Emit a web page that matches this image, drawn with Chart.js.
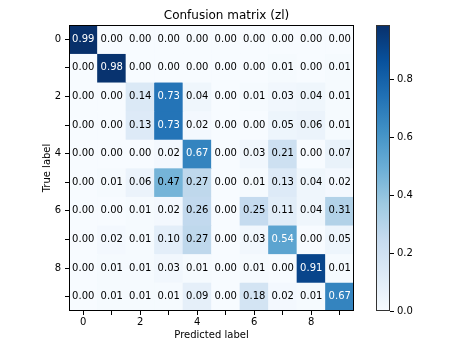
<!DOCTYPE html>
<html>
<head>
<meta charset="utf-8">
<script src="https://cdn.jsdelivr.net/npm/chart.js@4.4.1/dist/chart.umd.min.js"></script>
<style>
html,body{margin:0;padding:0;background:#fff;}
canvas{display:block;}
</style>
</head>
<body>
<canvas id="c" width="453" height="345"></canvas>
<script>
// ---- data ----
const chartTitle = 'Confusion matrix (zl)';
const predictedLabels = ['0','1','2','3','4','5','6','7','8','9'];
const trueLabels = ['0','1','2','3','4','5','6','7','8','9'];
const row0 = [0.99,0.00,0.00,0.00,0.00,0.00,0.00,0.00,0.00,0.00];
const row1 = [0.00,0.98,0.00,0.00,0.00,0.00,0.00,0.01,0.00,0.01];
const row2 = [0.00,0.00,0.14,0.73,0.04,0.00,0.01,0.03,0.04,0.01];
const row3 = [0.00,0.00,0.13,0.73,0.02,0.00,0.00,0.05,0.06,0.01];
const row4 = [0.00,0.00,0.00,0.02,0.67,0.00,0.03,0.21,0.00,0.07];
const row5 = [0.00,0.01,0.06,0.47,0.27,0.00,0.01,0.13,0.04,0.02];
const row6 = [0.00,0.00,0.01,0.02,0.26,0.00,0.25,0.11,0.04,0.31];
const row7 = [0.00,0.02,0.01,0.10,0.27,0.00,0.03,0.54,0.00,0.05];
const row8 = [0.00,0.01,0.01,0.03,0.01,0.00,0.01,0.00,0.91,0.01];
const row9 = [0.00,0.01,0.01,0.01,0.09,0.00,0.18,0.02,0.01,0.67];
const matrix = [row0,row1,row2,row3,row4,row5,row6,row7,row8,row9];
const colorbarTicks = [0.0,0.2,0.4,0.6,0.8];

const vmax = Math.max(...matrix.flat());
const vmin = 0;

// matplotlib "Blues" colormap stops
const BLUES = [[247,251,255],[222,235,247],[198,219,239],[158,202,225],[107,174,214],[66,146,198],[33,113,181],[8,81,156],[8,48,107]];
function blues(t){
  t = Math.max(0, Math.min(1, t));
  const p = t * (BLUES.length - 1);
  const i = Math.min(BLUES.length - 2, Math.floor(p));
  const f = p - i;
  const a = BLUES[i], b = BLUES[i+1];
  const c = a.map((v,k)=>Math.round(v + (b[k]-v)*f));
  return `rgb(${c[0]},${c[1]},${c[2]})`;
}

Chart.defaults.font.family = "'DejaVu Sans', sans-serif";
Chart.defaults.font.size = 10;
Chart.defaults.color = '#000';

const cellText = {
  id: 'cellText',
  afterDatasetsDraw(chart){
    const ctx = chart.ctx;
    ctx.save();
    ctx.font = "10px 'DejaVu Sans'";
    ctx.textAlign = 'center';
    ctx.textBaseline = 'middle';
    chart.data.datasets.forEach((ds, i) => {
      const meta = chart.getDatasetMeta(i);
      meta.data.forEach((el, j) => {
        const v = matrix[i][j];
        const p = el.getCenterPoint();
        ctx.fillStyle = v > vmax / 2 ? '#fff' : '#000';
        ctx.fillText(v.toFixed(2), p.x, p.y);
      });
    });
    ctx.restore();
  }
};

const frameAndColorbar = {
  id: 'frameAndColorbar',
  afterDraw(chart){
    const ctx = chart.ctx;
    const a = chart.chartArea;
    ctx.save();
    ctx.strokeStyle = '#000';
    ctx.lineWidth = 1;
    ctx.strokeRect(Math.round(a.left)+0.5, Math.round(a.top)+0.5, Math.round(a.right-a.left)-1, Math.round(a.bottom-a.top)-1);
    // colorbar
    const cb = chart.scales.cb;
    const x1 = cb.left, x0 = x1 - 14;
    const yTop = cb.getPixelForValue(vmax), yBot = cb.getPixelForValue(vmin);
    const g = ctx.createLinearGradient(0, yBot, 0, yTop);
    BLUES.forEach((c, k) => g.addColorStop(k/(BLUES.length-1), `rgb(${c[0]},${c[1]},${c[2]})`));
    ctx.fillStyle = g;
    ctx.fillRect(x0, yTop, x1 - x0, yBot - yTop);
    ctx.strokeStyle = '#333';
    ctx.strokeRect(Math.round(x0)+0.5, Math.round(yTop)+0.5, Math.round(x1-x0)-1, Math.round(yBot-yTop)-1);
    ctx.restore();
  }
};

new Chart(document.getElementById('c'), {
  type: 'bar',
  data: {
    labels: predictedLabels,
    datasets: trueLabels.map((lab, i) => ({
      label: lab,
      data: predictedLabels.map(() => [i, i + 1]),
      backgroundColor: matrix[i].map(v => blues((v - vmin) / (vmax - vmin))),
      grouped: false,
      barPercentage: 1,
      categoryPercentage: 1,
      borderWidth: 0,
      borderSkipped: false,
      yAxisID: 'y'
    }))
  },
  options: {
    responsive: false,
    devicePixelRatio: 1,
    animation: false,
    events: [],
    layout: { padding: { left: 0, right: 0, top: 0, bottom: 0 } },
    plugins: {
      legend: { display: false },
      tooltip: { enabled: false },
      title: {
        display: true,
        text: chartTitle,
        color: '#000',
        font: { size: 12, weight: 'normal' },
        padding: { top: 8.6, bottom: 2 }
      }
    },
    scales: {
      x: {
        type: 'category',
        position: 'bottom',
        offset: true,
        grid: { offset: false, drawOnChartArea: false, drawTicks: true, tickLength: 4, color: '#000' },
        border: { display: false },
        ticks: {
          autoSkip: false, maxRotation: 0, padding: 1, color: '#000',
          callback: (v, i) => (i % 2 === 0 ? predictedLabels[i] : '')
        },
        title: { display: true, text: 'Predicted label', color: '#000', font: { size: 10 }, padding: { top: 0, bottom: 4 } },
        afterFit: s => { s.height = 34; }
      },
      y: {
        type: 'linear',
        position: 'left',
        min: 0, max: trueLabels.length,
        reverse: true,
        grid: { drawOnChartArea: false, drawTicks: true, tickLength: 4, color: '#000' },
        border: { display: false },
        afterBuildTicks: s => { s.ticks = trueLabels.map((l, i) => ({ value: i + 0.5 })); },
        ticks: {
          padding: 4, color: '#000',
          callback: (v, i) => (i % 2 === 0 ? trueLabels[i] : '')
        },
        title: { display: true, text: 'True label', color: '#000', font: { size: 10 }, padding: { top: 41, bottom: 0 } },
        afterFit: s => { s.width = 69; }
      },
      gap: {
        type: 'linear',
        position: 'right',
        weight: 0,
        display: true,
        grid: { display: false },
        border: { display: false },
        ticks: { display: false },
        afterFit: s => { s.width = 36; }
      },
      cb: {
        type: 'linear',
        position: 'right',
        weight: 1,
        min: vmin, max: vmax,
        grid: { drawOnChartArea: false, drawTicks: true, tickLength: 4, color: '#000' },
        border: { display: false },
        afterBuildTicks: s => { s.ticks = colorbarTicks.map(v => ({ value: v })); },
        ticks: { padding: 3, color: '#000', callback: v => Number(v).toFixed(1) },
        afterFit: s => { s.width = 63; }
      }
    }
  },
  plugins: [cellText, frameAndColorbar]
});
</script>
</body>
</html>
